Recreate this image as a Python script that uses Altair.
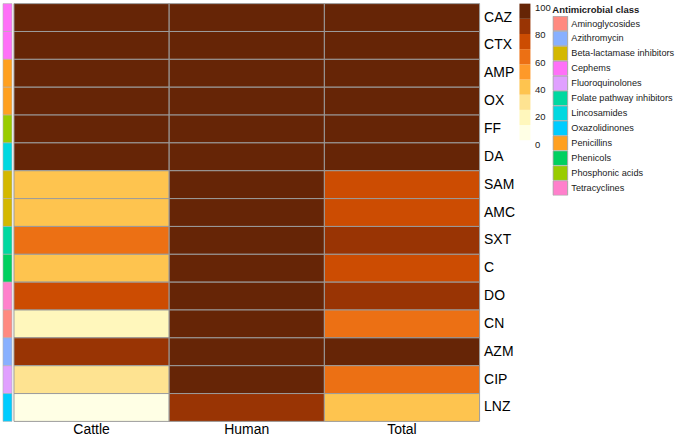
import altair as alt
import pandas as pd

drugs = ["CAZ", "CTX", "AMP", "OX", "FF", "DA", "SAM", "AMC", "SXT", "C",
         "DO", "CN", "AZM", "CIP", "LNZ"]
drug_class = ["Cephems", "Cephems", "Penicillins", "Penicillins", "Phosphonic acids",
              "Lincosamides", "Beta-lactamase inhibitors", "Beta-lactamase inhibitors",
              "Folate pathway inhibitors", "Phenicols", "Tetracyclines",
              "Aminoglycosides", "Azithromycin", "Fluoroquinolones", "Oxazolidinones"]
groups = ["Cattle", "Human", "Total"]
cattle = [100, 100, 100, 100, 100, 100, 40, 40, 60, 40, 72, 15, 83, 28, 5]
human = [100, 100, 100, 100, 100, 100, 100, 100, 100, 100, 100, 100, 100, 100, 85]
total = [100, 100, 100, 100, 100, 100, 72, 72, 83, 72, 83, 62, 93, 62, 40]

classes = ["Aminoglycosides", "Azithromycin", "Beta-lactamase inhibitors", "Cephems",
           "Fluoroquinolones", "Folate pathway inhibitors", "Lincosamides",
           "Oxazolidinones", "Penicillins", "Phenicols", "Phosphonic acids",
           "Tetracyclines"]
class_colors = ["#FF8A80", "#88B0FF", "#D4B800", "#FF70F8", "#E0A0FF", "#00D8A0",
                "#00D8E0", "#00CCFF", "#FFA020", "#00D060", "#99CC00", "#FF80CC"]
heat_colors = ["#FFFFE5", "#FFF7BC", "#FEE391", "#FEC44F", "#FE9929", "#EC7014",
               "#CC4C02", "#993404", "#662506"]
bin_lo = [0, 11.11, 22.22, 33.33, 44.44, 55.56, 66.67, 77.78, 88.89]
bin_hi = [11.11, 22.22, 33.33, 44.44, 55.56, 66.67, 77.78, 88.89, 100]
legend_ticks = [0, 20, 40, 60, 80, 100]

series = {"Cattle": cattle, "Human": human, "Total": total}
rows = []
for g in groups:
    for d, v in zip(drugs, series[g]):
        rows.append({"group": g, "drug": d, "value": v})
df = pd.DataFrame(rows)
cdf = pd.DataFrame({"drug": drugs, "cls": drug_class})
bdf = pd.DataFrame({"lo": bin_lo, "hi": bin_hi, "c": heat_colors})

FONT = "Liberation Sans"

stripe = alt.Chart(cdf).mark_rect(stroke="#b0b0b0", strokeWidth=0.6).encode(
    y=alt.Y("drug:N", sort=drugs, axis=None,
            scale=alt.Scale(paddingInner=0, paddingOuter=0)),
    fill=alt.Fill("cls:N", scale=alt.Scale(domain=classes, range=class_colors),
                  legend=alt.Legend(
                      title="Antimicrobial class", orient="none", legendX=551, legendY=1,
                      symbolType="square", symbolSize=215, symbolStrokeColor="#a8a8a8",
                      symbolStrokeWidth=1, symbolOpacity=1, rowPadding=0,
                      clipHeight=14.9,
                      labelFontSize=9.2, labelFont=FONT, labelColor="#1a1a1a",
                      labelOffset=3, titleFontSize=9.5, titleFont=FONT,
                      titleFontWeight="bold", titleColor="#1a1a1a", titlePadding=2,
                      labelLimit=200)),
).properties(width=9, height=419)

heat = alt.Chart(df).mark_rect(stroke="#9c9c9c", strokeWidth=1).encode(
    x=alt.X("group:N", sort=groups, scale=alt.Scale(paddingInner=0, paddingOuter=0),
            axis=alt.Axis(title=None, labelAngle=0, orient="bottom", ticks=False,
                          domain=False, labelFontSize=14, labelFont=FONT,
                          labelColor="#000000", labelPadding=1)),
    y=alt.Y("drug:N", sort=drugs, scale=alt.Scale(paddingInner=0, paddingOuter=0),
            axis=alt.Axis(title=None, orient="right", ticks=False, domain=False,
                          labelFontSize=14, labelFont=FONT, labelColor="#000000",
                          labelPadding=4)),
    color=alt.Color("value:Q",
                    scale=alt.Scale(type="quantize", domain=[0, 100], range=heat_colors,
                                    nice=False, zero=False),
                    legend=None),
).properties(width=467, height=419)

spacer = alt.Chart(pd.DataFrame({"a": [0]})).mark_point(opacity=0).encode(
    x=alt.X("a:Q", axis=None), y=alt.Y("a:Q", axis=None)
).properties(width=36, height=10)

colorbar = alt.Chart(bdf).mark_rect().encode(
    y=alt.Y("lo:Q", scale=alt.Scale(domain=[0, 100], nice=False, zero=False),
            axis=alt.Axis(orient="right", values=legend_ticks, ticks=False, domain=False,
                          grid=False, title=None, labelFontSize=9.5, labelFont=FONT,
                          labelColor="#1a1a1a", labelPadding=4, labelBaseline="top",
                          labelOffset=-1)),
    y2="hi:Q",
    color=alt.Color("c:N", scale=None, legend=None),
).properties(width=11, height=137)

chart = alt.hconcat(stripe, heat, spacer, colorbar, spacing=2, bounds="flush"
).configure_view(stroke=None).properties(
    padding={"left": 2, "top": 2, "right": 0, "bottom": 0}
)

chart.save("out.html", embed_options={"renderer": "svg", "actions": False})
